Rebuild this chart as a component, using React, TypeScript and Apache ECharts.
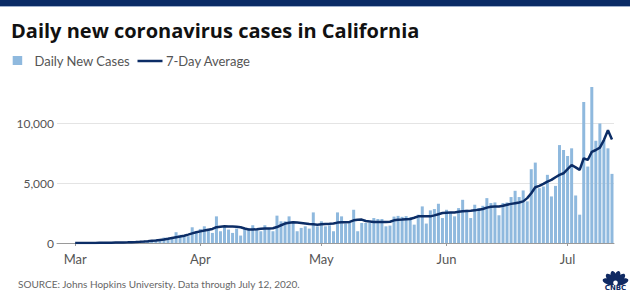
import React, { useEffect, useRef } from "react";
import * as echarts from "echarts";

// Daily new cases, California, by month (Mar 1 – Jul 12, 2020)
const marchDaily = [
  2, 4, 6, 10, 12, 15, 18, 25, 30, 35,
  45, 55, 70, 80, 95, 120, 140, 170, 200, 240,
  280, 330, 450, 430, 500, 900, 680, 620, 570, 1310,
  980,
];
const aprilDaily = [
  1170, 1390, 1170, 840, 2220, 980, 1390, 1120, 840, 1200,
  620, 1260, 1200, 1480, 1120, 980, 1480, 1260, 980, 2280,
  1810, 1810, 2220, 1810, 980, 1260, 1390, 1200, 2550, 1390,
];
const mayDaily = [
  1810, 1390, 1480, 980, 2550, 2220, 1620, 1730, 2770, 980,
  1670, 1670, 1670, 2080, 2000, 2000, 1390, 1450, 2200, 2260,
  2180, 2240, 2150, 1530, 2360, 3050, 1620, 2720, 2830, 3270,
  2080,
];
const juneDaily = [
  2770, 2500, 2220, 2910, 3600, 2770, 2080, 3190, 2910, 3100,
  3740, 3330, 3380, 2310, 3330, 3380, 3830, 4350, 3830, 4380,
  3470, 6150, 6700, 4570, 4710, 5680, 3880, 4760, 8160, 7750,
];
const julyDaily = [
  7250, 7890, 3960, 2360, 11750, 6370, 13000, 8520, 9960, 8580, 7890, 5760,
];

// 7-day average, same days
const marchAvg = [
  0, 2, 3, 5, 7, 10, 14, 18, 22, 28,
  35, 42, 50, 60, 72, 88, 105, 125, 150, 180,
  210, 250, 290, 350, 420, 480, 540, 610, 700, 800,
  890,
];
const aprilAvg = [
  970, 1040, 1110, 1170, 1320, 1360, 1390, 1380, 1370, 1350,
  1310, 1210, 1130, 1120, 1140, 1180, 1200, 1210, 1230, 1330,
  1480, 1620, 1690, 1730, 1710, 1670, 1630, 1590, 1560, 1530,
];
const mayAvg = [
  1560, 1590, 1600, 1620, 1700, 1730, 1730, 1760, 1890, 1940,
  1950, 1830, 1790, 1750, 1750, 1750, 1760, 1770, 1890, 1930,
  1950, 1980, 2000, 2100, 2220, 2230, 2220, 2220, 2300, 2400,
  2500,
];
const juneAvg = [
  2520, 2540, 2550, 2600, 2640, 2670, 2690, 2720, 2780, 2830,
  2950, 3020, 3040, 3050, 3100, 3190, 3260, 3320, 3380, 3470,
  3740, 4150, 4650, 4760, 4930, 5120, 5260, 5480, 5680, 5810,
];
const julyAvg = [
  6150, 6500, 6300, 6090, 7060, 6920, 7600, 7750, 7950, 8580, 9400, 8630,
];

// Axis starts a few days before March (empty days)
const leadDays = [null, null, null, null];
const MONTH_NAMES = ["Jan", "Feb", "Mar", "Apr", "May", "Jun", "Jul", "Aug"];
const yTicks = [0, 5000, 10000];

const TITLE = "Daily new coronavirus cases in California";
const SOURCE = "SOURCE: Johns Hopkins University. Data through July 12, 2020.";

const NAVY = "#0c2d66";
const BAR = "#8fb9de";
const FONT = "Lato, 'Noto Sans', sans-serif";

function buildDates(start: string, count: number): string[] {
  const out: string[] = [];
  const d = new Date(start + "T00:00:00Z");
  for (let i = 0; i < count; i++) {
    const t = new Date(d.getTime() + i * 86400000);
    out.push(t.toISOString().slice(0, 10));
  }
  return out;
}

export default function App() {
  const ref = useRef<HTMLDivElement>(null);

  useEffect(() => {
    if (!ref.current) return;
    const chart = echarts.init(ref.current, undefined, { renderer: "svg" });

    const daily = [...leadDays, ...marchDaily, ...aprilDaily, ...mayDaily, ...juneDaily, ...julyDaily];
    const avg = [...leadDays, ...marchAvg, ...aprilAvg, ...mayAvg, ...juneAvg, ...julyAvg];
    const dates = buildDates("2020-02-26", daily.length);
    const isMonthStart = (_i: number, v: string) => v.endsWith("-01");

    chart.setOption({
      animation: false,
      backgroundColor: "#ffffff",
      grid: { left: 57, right: 16, top: 87, bottom: 56, containLabel: false },
      xAxis: {
        type: "category",
        data: dates,
        boundaryGap: true,
        axisLine: { show: true, lineStyle: { color: "#9a9a9a", width: 1 } },
        axisTick: {
          show: true,
          alignWithLabel: true,
          interval: isMonthStart,
          length: 3,
          lineStyle: { color: "#9a9a9a" },
        },
        axisLabel: {
          interval: isMonthStart,
          margin: 9,
          color: "#555555",
          fontSize: 13,
          fontFamily: FONT,
          formatter: (v: string) => MONTH_NAMES[parseInt(v.slice(5, 7), 10) - 1],
        },
        splitLine: { show: false },
      },
      yAxis: {
        type: "value",
        min: 0,
        max: 13000,
        interval: 5000,
        axisLine: { show: false },
        axisTick: { show: false },
        axisLabel: {
          margin: 3,
          color: "#555555",
          fontSize: 12,
          fontFamily: FONT,
          showMaxLabel: false,
          formatter: (v: number) => (yTicks.includes(v) ? v.toLocaleString("en-US") : ""),
        },
        splitLine: {
          show: true,
          lineStyle: { color: ["#e4e4e4", "#e4e4e4", "#e4e4e4", "rgba(0,0,0,0)"], width: 1 },
        },
      },
      series: [
        {
          name: "Daily New Cases",
          type: "bar",
          data: daily,
          barWidth: 3,
          itemStyle: { color: BAR },
          z: 2,
        },
        {
          name: "7-Day Average",
          type: "line",
          data: avg,
          symbol: "none",
          connectNulls: false,
          lineStyle: { color: NAVY, width: 2.5 },
          z: 3,
        },
      ],
      graphic: [
        { type: "rect", shape: { x: 0, y: 0, width: 630, height: 6 }, style: { fill: "#0b2c66" } },
        { type: "rect", shape: { x: 0, y: 6, width: 630, height: 1 }, style: { fill: "#9fb0cc" } },
        {
          type: "text",
          x: 11,
          y: 30.5,
          style: {
            text: TITLE,
            fill: "#111111",
            fontSize: 20,
            fontWeight: "bold",
            fontFamily: "'Open Sans', Lato, sans-serif",
            verticalAlign: "middle",
          },
        },
        { type: "rect", shape: { x: 12.7, y: 56, width: 9.5, height: 9 }, style: { fill: BAR } },
        {
          type: "text",
          x: 34.5,
          y: 61,
          style: { text: "Daily New Cases", fill: "#555555", fontSize: 13, fontFamily: FONT, verticalAlign: "middle" },
        },
        {
          type: "line",
          shape: { x1: 137.5, y1: 61, x2: 162.5, y2: 61 },
          style: { stroke: NAVY, lineWidth: 2.5 },
        },
        {
          type: "text",
          x: 166,
          y: 61,
          style: { text: "7-Day Average", fill: "#555555", fontSize: 13, fontFamily: FONT, verticalAlign: "middle" },
        },
        {
          type: "text",
          x: 18,
          y: 283.5,
          style: { text: SOURCE, fill: "#666666", fontSize: 10, fontFamily: FONT, verticalAlign: "middle" },
        },
        // CNBC peacock mark
        {
          type: "group",
          x: 615.5,
          y: 284,
          children: [
            ...[-72, -43, -14, 14, 43, 72].map((deg) => ({
              type: "ellipse",
              rotation: (-deg * Math.PI) / 180,
              shape: { cx: 0, cy: -7, rx: 3, ry: 6.4 },
              style: { fill: "#102a63" },
            })),
            { type: "circle", shape: { cx: 0, cy: -1.2, r: 2.3 }, style: { fill: "#ffffff" } },
            {
              type: "text",
              x: 0,
              y: 4.3,
              style: {
                text: "CNBC",
                fill: "#102a63",
                fontSize: 7,
                fontWeight: "bold",
                fontFamily: "'DejaVu Sans', sans-serif",
                align: "center",
                verticalAlign: "middle",
              },
            },
          ],
        },
      ],
    });

    return () => chart.dispose();
  }, []);

  return (
    <div
      ref={ref}
      style={{ position: "absolute", left: 0, top: 0, width: 630, height: 299 }}
    />
  );
}
